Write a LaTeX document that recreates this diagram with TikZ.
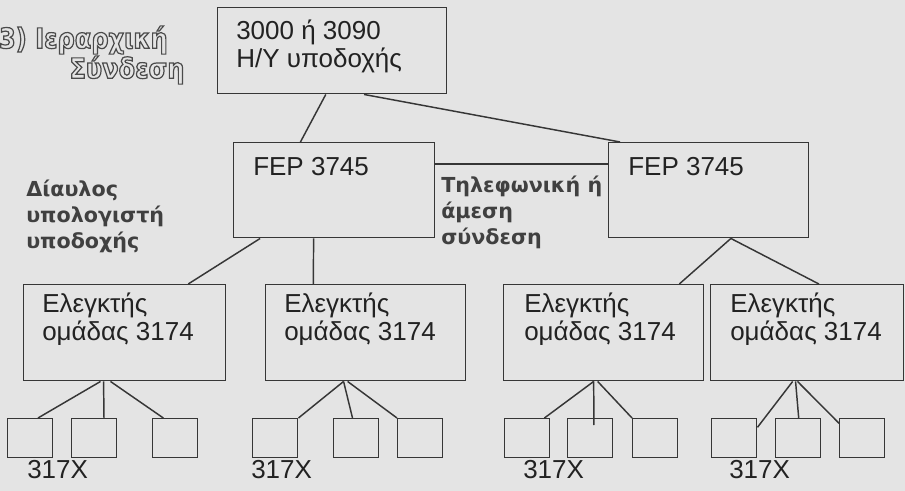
\documentclass[tikz,border=0pt]{standalone}
\usepackage{fontspec}
\setmainfont{Liberation Sans}
\newfontfamily\lblfont{DejaVu Sans}
\newfontfamily\titlefont{DejaVu Sans}[FakeStretch=0.86]
\usetikzlibrary{calc}
\definecolor{bg}{HTML}{E4E4E4}
\definecolor{ln}{HTML}{363636}
\definecolor{tx}{HTML}{222222}
\definecolor{lb}{HTML}{404040}
\definecolor{tt}{HTML}{4A4A4A}
\newcommand\outl[1]{\special{pdf:literal direct 1 Tr 0.9 w}#1\special{pdf:literal direct 0 Tr}}
\begin{document}
\begin{tikzpicture}[x=0.75pt,y=-0.75pt,
  box/.style={draw=ln, line width=1.1pt, rectangle, inner sep=0pt, anchor=north west},
  txt/.style={inner sep=0pt, align=left, text=tx, font=\fontsize{19.5}{21}\selectfont, anchor=west},
  lbl/.style={inner sep=0pt, align=left, text=lb, font=\lblfont\bfseries\fontsize{15.5}{19.5}\selectfont, anchor=west},
  ttl/.style={inner sep=0pt, text=tt, font=\titlefont\bfseries\fontsize{21}{24}\selectfont},
  conn/.style={draw=ln, line width=1.1pt}]
\fill[bg] (0,0) rectangle (905,491);
\useasboundingbox (0,0) rectangle (905,491);

% title
\node[ttl, anchor=east] (t1) at (168,40) {\outl{3) Ιεραρχική}};
\node[ttl] (t2) at (127,70) {\outl{Σύνδεση}};

% boxes
\node[box, minimum width=229*0.75pt, minimum height=86*0.75pt] (top) at (217,7) {};
\node[box, minimum width=201*0.75pt, minimum height=95*0.75pt] (fep1) at (233,142) {};
\node[box, minimum width=200*0.75pt, minimum height=95*0.75pt] (fep2) at (608,142) {};
\node[box, minimum width=202*0.75pt, minimum height=96*0.75pt] (c1) at (23,284) {};
\node[box, minimum width=200*0.75pt, minimum height=96*0.75pt] (c2) at (265,284) {};
\node[box, minimum width=200*0.75pt, minimum height=96*0.75pt] (c3) at (503,284) {};
\node[box, minimum width=193*0.75pt, minimum height=96*0.75pt] (c4) at (710,284) {};

\foreach \n/\x in {g1a/7,g1b/71,g1c/152,g2a/252,g2b/333,g2c/397,g3a/504,g3b/567,g3c/632,g4a/711,g4b/775,g4c/839}
  \node[box, minimum width=45*0.75pt, minimum height=39*0.75pt] (\n) at (\x,418) {};

% texts
\node[txt] (topt) at (236,46) {3000 ή 3090\\Η/Υ υποδοχής};
\node[txt] (fep1t) at (253,167) {FEP 3745};
\node[txt] (fep2t) at (628,167) {FEP 3745};
\node[txt] (c1t) at (42,319) {Ελεγκτής\\ομάδας 3174};
\node[txt] (c2t) at (284,319) {Ελεγκτής\\ομάδας 3174};
\node[txt] (c3t) at (524,319) {Ελεγκτής\\ομάδας 3174};
\node[txt] (c4t) at (730,319) {Ελεγκτής\\ομάδας 3174};
\node[txt] (x1) at (27,470) {317X};
\node[txt] (x2) at (251,470) {317X};
\node[txt] (x3) at (523,470) {317X};
\node[txt] (x4) at (729,470) {317X};

\node[lbl] (l1) at (26,216) {Δίαυλος\\υπολογιστή\\υποδοχής};
\node[lbl] (l2) at (441,212) {Τηλεφωνική ή\\άμεση\\σύνδεση};

% connectors
\draw[conn] ($(top.south west)!0.472!(top.south east)$) -- ($(fep1.north west)!0.333!(fep1.north east)$);
\draw[conn] ($(top.south west)!0.638!(top.south east)$) -- ($(fep2.north west)!0.06!(fep2.north east)$);
\draw[conn] ($(fep1.north east)!0.23!(fep1.south east)$) -- ($(fep2.north west)!0.23!(fep2.south west)$);
\draw[conn] ($(fep1.south west)!0.134!(fep1.south east)$) -- ($(c1.north west)!0.812!(c1.north east)$);
\draw[conn] ($(fep1.south west)!0.398!(fep1.south east)$) -- ($(c2.north west)!0.24!(c2.north east)$);
\draw[conn] ($(fep2.south west)!0.61!(fep2.south east)$) -- ($(c3.north west)!0.875!(c3.north east)$);
\draw[conn] ($(fep2.south west)!0.61!(fep2.south east)$) -- ($(c4.north west)!0.56!(c4.north east)$);

\draw[conn] ($(c1.south west)!0.381!(c1.south east)$) -- ($(g1a.north west)!0.667!(g1a.north east)$);
\draw[conn] ($(c1.south west)!0.396!(c1.south east)$) -- ($(g1b.north west)!0.71!(g1b.north east)$);
\draw[conn] ($(c1.south west)!0.43!(c1.south east)$) -- ($(g1c.north west)!0.244!(g1c.north east)$);

\draw[conn] ($(c2.south west)!0.39!(c2.south east)$) -- (g2a.north east);
\draw[conn] ($(c2.south west)!0.39!(c2.south east)$) -- ($(g2b.north west)!0.42!(g2b.north east)$);
\draw[conn] ($(c2.south west)!0.41!(c2.south east)$) -- (g2c.north west);

\draw[conn] ($(c3.south west)!0.45!(c3.south east)$) -- ($(g3a.north west)!0.87!(g3a.north east)$);
\draw[conn] ($(c3.south west)!0.45!(c3.south east)$) -- ($(g3b.north west)!0.58!(g3b.north east)+(0,7)$);
\draw[conn] ($(c3.south west)!0.47!(c3.south east)$) -- (g3c.north west);

\draw[conn] ($(c4.south west)!0.425!(c4.south east)$) -- ($(g4a.north east)!0.23!(g4a.south east)$);
\draw[conn] ($(c4.south west)!0.44!(c4.south east)$) -- ($(g4b.north west)!0.51!(g4b.north east)$);
\draw[conn] ($(c4.south west)!0.45!(c4.south east)$) -- ($(g4c.north west)!0.13!(g4c.south west)$);
\end{tikzpicture}
\end{document}
